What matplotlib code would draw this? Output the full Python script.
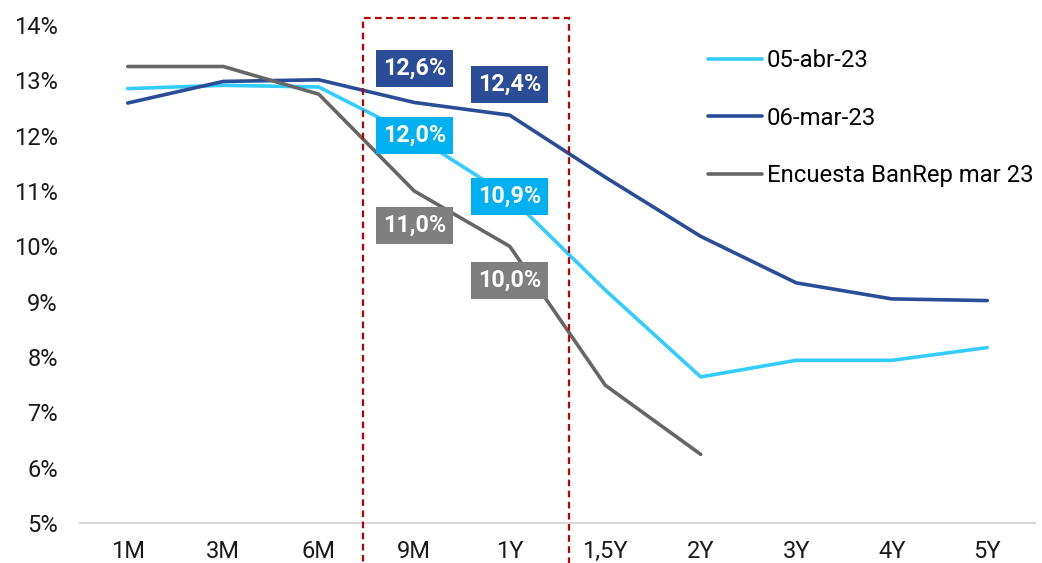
import matplotlib.pyplot as plt
import matplotlib.patches as patches
import matplotlib.ticker as ticker

plt.rcParams['font.family'] = ['Roboto', 'DejaVu Sans']

tenors = ['1M', '3M', '6M', '9M', '1Y', '1,5Y', '2Y', '3Y', '4Y', '5Y']
abr_05 = [12.85, 12.91, 12.88, 12.0, 10.9, 9.21, 7.64, 7.94, 7.94, 8.17]
mar_06 = [12.59, 12.98, 13.01, 12.6, 12.37, 11.25, 10.18, 9.34, 9.05, 9.02]
encuesta = [13.25, 13.25, 12.75, 11.0, 10.0, 7.49, 6.24]

names = ['05-abr-23', '06-mar-23', 'Encuesta BanRep mar 23']
line_colors = ['#33CCFF', '#2B4C96', '#666666']
box_colors = ['#00B0F0', '#2B4C96', '#7F7F7F']
series = [abr_05, mar_06, encuesta]

# labelled points (9M and 1Y) and pixel offsets of their boxes
lab_idx = [3, 4]
lab_off = [[0, 0], [34, 31], [-34, -34]]

fig = plt.figure(figsize=(10.42, 5.63), dpi=100)
ax = fig.add_axes([80/1042, 1-523/563, 955/1042, 498/563])

x = list(range(len(tenors)))
for s, name, c in zip(series, names, line_colors):
    ax.plot(x[:len(s)], s, color=c, lw=2.6, label=name, solid_capstyle='round')

for s, bc, offs in zip(series, box_colors, lab_off):
    for i, off in zip(lab_idx, offs):
        txt = ('%.1f%%' % s[i]).replace('.', ',')
        ax.annotate(txt, (i, s[i]), xytext=(0, off), textcoords='offset pixels',
                    ha='center', va='center', color='white', fontsize=16.8,
                    fontweight='bold', zorder=5,
                    bbox=dict(boxstyle='square,pad=0.3', fc=bc, ec='none'))

rect = patches.Rectangle((2.46, 4.0), 4.62-2.46, 14.13-4.0, fill=False,
                         ec='#C00000', lw=1.6, ls=(0, (3, 2)), clip_on=False, zorder=6)
ax.add_patch(rect)

ax.set_xlim(-0.5, 9.5)
ax.set_ylim(5, 14)
ax.set_xticks(x)
ax.set_xticklabels(tenors)
ax.yaxis.set_major_locator(ticker.MultipleLocator(1))
ax.yaxis.set_major_formatter(ticker.FormatStrFormatter('%d%%'))
ax.tick_params(axis='both', length=0, labelsize=17, colors='#1a1a1a')
ax.tick_params(axis='y', pad=16)
ax.tick_params(axis='x', pad=12)
for sp in ['top', 'right', 'left']:
    ax.spines[sp].set_visible(False)
ax.spines['bottom'].set_color('#D9D9D9')
ax.spines['bottom'].set_linewidth(1.5)

ax.legend(loc='upper left', bbox_to_anchor=(708/1042, 1-49/563), bbox_transform=fig.transFigure,
          frameon=False, fontsize=17.2, handlelength=2.25, handletextpad=0.2,
          labelspacing=1.45, borderpad=0, borderaxespad=0)

fig.savefig('out.png')
